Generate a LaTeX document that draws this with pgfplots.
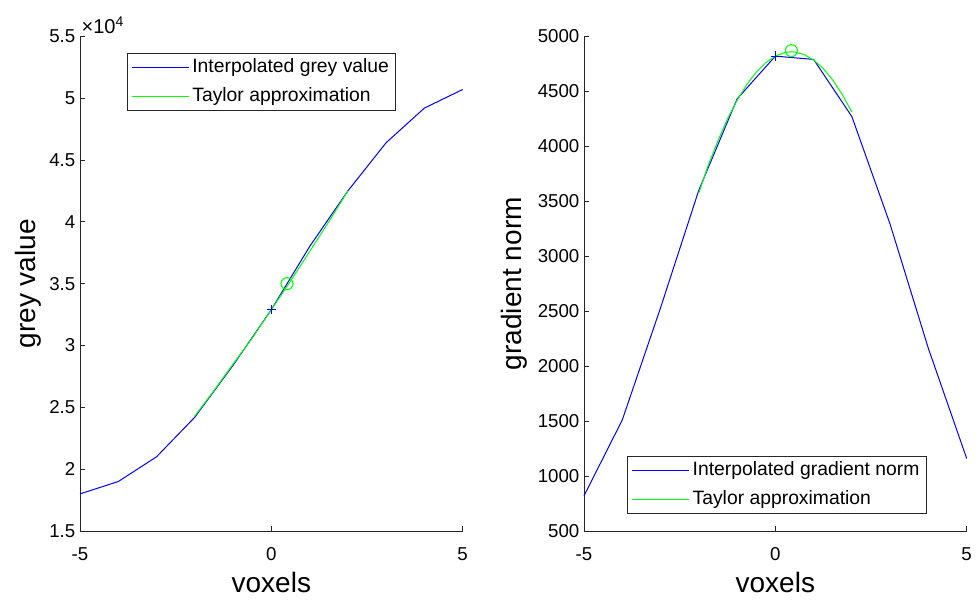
\documentclass[border=0pt]{standalone}
\usepackage{fontspec}
\setmainfont{Liberation Sans}
\usepackage{pgfplots}
\pgfplotsset{compat=1.18}
\definecolor{axgray}{gray}{0.15}
\definecolor{mblue}{rgb}{0,0,1}
\definecolor{mgreen}{rgb}{0,1,0}
\pgfplotsset{
  mstyle/.style={
    scale only axis, width=287pt, height=371pt,
    axis lines*=left, axis line style={axgray,-, line width=0.6pt},
    tick style={axgray, line width=0.6pt}, major tick length=3.75pt,
    tick align=inside, clip=false,
    xmin=-5, xmax=5, xtick={-5,0,5},
    /pgf/number format/assume math mode=true,
    /pgf/number format/1000 sep={},
    tick label style={font=\fontsize{14}{16}\selectfont},
    xticklabel style={yshift=-9pt},
    label style={font=\fontsize{21}{24}\selectfont},
    xlabel style={at={(axis description cs:0.5,-0.105)}, anchor=center},
    legend style={draw=axgray, line width=0.6pt, font=\fontsize{14.5}{17}\selectfont,
      inner xsep=3pt, inner ysep=2pt, row sep=4pt,
      nodes={text height=10.5pt, text depth=3pt, inner ysep=2pt}},
    legend cell align=left,
    legend image code/.code={\draw[#1, line width=0.75pt] plot coordinates {(0pt,0pt) (43pt,0pt)};},
    xlabel={voxels},
  }
}
\begin{document}
\begin{tikzpicture}
\begin{axis}[mstyle, at={(0,0)}, anchor=south west,
  ymin=15000, ymax=55000, ytick={15000,20000,25000,30000,35000,40000,45000,50000,55000},
  scaled y ticks=false,
  yticklabels={1.5,2,2.5,3,3.5,4,4.5,5,5.5},
  ylabel={grey value},
  ylabel style={at={(axis description cs:-0.136,0.5)}, anchor=center},
  legend style={at={(0.1227,0.966)}, anchor=north west},
]
\addplot[color=mblue, line width=0.75pt] coordinates {(-5,18000) (-4,19000) (-3,21000) (-2,24200) (-1,28400) (0,32900) (1,38000) (2,42500) (3,46400) (4,49200) (5,50700)};
\addlegendentry{Interpolated grey value}
\addplot[color=mgreen, line width=0.75pt] coordinates {(-2,24300) (-1.5,26350) (-1,28500) (-0.5,30600) (0,32900) (0.5,35200) (1,37600) (1.5,40000) (2,42500)};
\addlegendentry{Taylor approximation}
\addplot[color=mblue, only marks, mark=+, mark size=3.6pt, mark options={color=mblue, line width=0.8pt}, forget plot] coordinates {(0,32900)};
\addplot[color=mgreen, only marks, mark=o, mark size=4.5pt, mark options={color=mgreen, line width=0.8pt}, forget plot] coordinates {(0.41,35000)};
\node[anchor=south west, inner sep=0pt, xshift=1pt, yshift=1.5pt, font=\fontsize{15}{17}\selectfont] at (rel axis cs:0,1) {×10\textsuperscript{4}};
\end{axis}
\begin{axis}[mstyle, at={(378pt,0)}, anchor=south west,
  ymin=500, ymax=5000, ytick={500,1000,...,5000},
  ylabel={gradient norm},
  ylabel style={at={(axis description cs:-0.183,0.5)}, anchor=center},
  legend style={at={(0.113,0.034)}, anchor=south west},
]
\addplot[color=mblue, line width=0.75pt] coordinates {(-5,820) (-4,1510) (-3,2530) (-2,3600) (-1,4430) (0,4820) (1,4790) (2,4270) (3,3290) (4,2160) (5,1160)};
\addlegendentry{Interpolated gradient norm}
\addplot[color=mgreen, line width=0.75pt] coordinates {(-2,3575) (-1.75,3830) (-1.5,4050) (-1.25,4250) (-1,4417) (-0.75,4560) (-0.5,4673) (-0.25,4760) (0,4820) (0.25,4853) (0.42,4860) (0.5,4857) (0.75,4835) (1,4785) (1.25,4708) (1.5,4603) (1.75,4470) (2,4312)};
\addlegendentry{Taylor approximation}
\addplot[color=mblue, only marks, mark=+, mark size=3.6pt, mark options={color=mblue, line width=0.8pt}, forget plot] coordinates {(0,4820)};
\addplot[color=mgreen, only marks, mark=o, mark size=4.5pt, mark options={color=mgreen, line width=0.8pt}, forget plot] coordinates {(0.42,4870)};
\end{axis}
\pgfresetboundingbox
\path (-60pt,-51.75pt) rectangle (674.25pt,398.25pt);
\end{tikzpicture}
\end{document}
